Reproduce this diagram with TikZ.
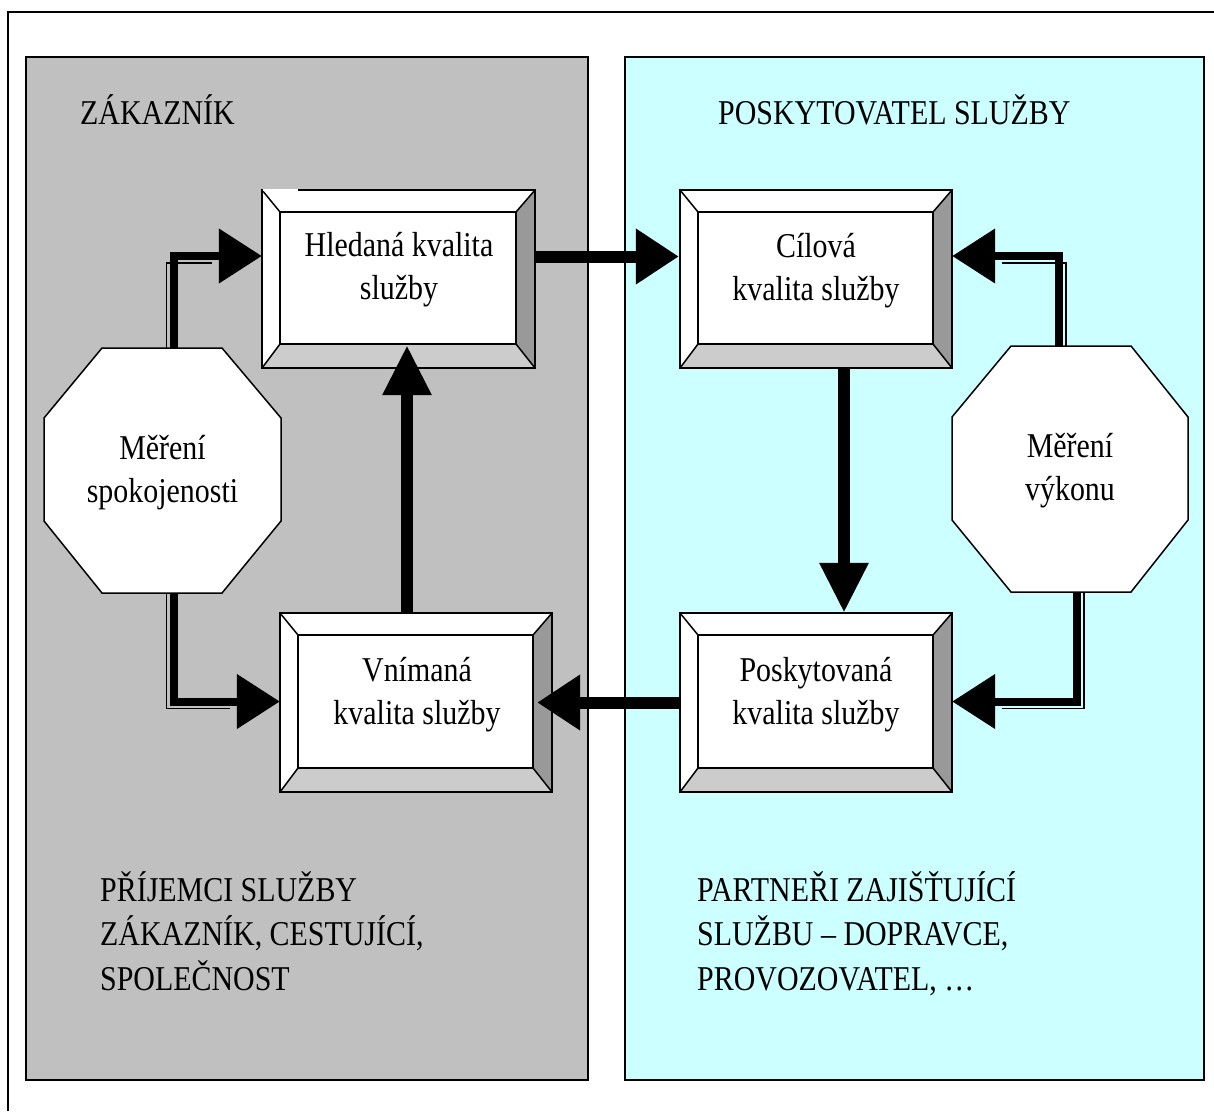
\documentclass[tikz,border=0pt]{standalone}
\usepackage{fontspec}
\setmainfont{Liberation Serif}[FakeStretch=0.86]
\usetikzlibrary{arrows.meta,calc}
\definecolor{panelgray}{HTML}{C0C0C0}
\definecolor{panelcyan}{HTML}{CCFFFF}
\definecolor{bevdark}{HTML}{999999}
\definecolor{bevlight}{HTML}{CCCCCC}
\newcommand\bevbox[5]{%
  \pgfmathsetmacro\bax{#2+18}\pgfmathsetmacro\bay{#3+22}%
  \pgfmathsetmacro\bbx{#4-19}\pgfmathsetmacro\bby{#5-24}%
  \fill[white] (#2,#3) -- (#4,#3) -- (\bbx,\bay) -- (\bax,\bay) -- cycle;
  \fill[white] (#2,#3) -- (\bax,\bay) -- (\bax,\bby) -- (#2,#5) -- cycle;
  \fill[bevdark] (#4,#3) -- (#4,#5) -- (\bbx,\bby) -- (\bbx,\bay) -- cycle;
  \fill[bevlight] (#2,#5) -- (#4,#5) -- (\bbx,\bby) -- (\bax,\bby) -- cycle;
  \draw[boxline] (#2,#3) -- (\bax,\bay) (#4,#3) -- (\bbx,\bay) (#4,#5) -- (\bbx,\bby) (#2,#5) -- (\bax,\bby);
  \draw[boxline, fill=white] (\bax,\bay) rectangle (\bbx,\bby);
  \draw[boxline] (#2,#3) rectangle (#4,#5);
  \node[inner sep=0, minimum width={(#4-#2)*1pt}, minimum height={(#5-#3)*1pt}] (#1) at ({(#2+#4)/2},{(#3+#5)/2}) {};
}
\begin{document}
\begin{tikzpicture}[x=1pt,y=-1pt,
  boxline/.style={line width=1.5pt, black},
  panelline/.style={line width=1.8pt, black},
  txt/.style={font=\fontsize{34.8}{43}\selectfont, inner sep=0, align=center, anchor=base},
  ltxt/.style={font=\fontsize{34.8}{44.5}\selectfont, inner sep=0, align=left, anchor=base west},
  mainarr/.style={line width=12pt, -{Triangle[length=43pt,width=53pt]}},
  mainarrv/.style={line width=12pt, -{Triangle[length=50pt,width=46pt]}},
  dblarr/.style={line width=8pt, -{Triangle[length=43pt,width=53pt]}},
  shadowline/.style={line width=1.5pt}]
\useasboundingbox (0,0) rectangle (1214,1111);
\fill[white] (0,0) rectangle (1214,1111);
% outer frame
\draw[line width=1.2pt] (8,1111) -- (8,12) -- (1214,12);
% panels
\draw[panelline, fill=panelgray] (26,57) rectangle (588,1080);
\draw[panelline, fill=panelcyan] (625,57) rectangle (1204,1080);
% panel titles
\node[ltxt] (zak) at (80,124) {ZÁKAZNÍK};
\node[ltxt] (posk) at (718,124) {POSKYTOVATEL SLUŽBY};
% boxes
\bevbox{hl}{262}{190}{535}{368}
\draw[white, line width=2pt] (263,190) -- (298,190);
\bevbox{cl}{680}{190}{952}{368}
\bevbox{vn}{280}{613}{552}{792}
\bevbox{pk}{680}{613}{952}{792}
% octagons
\draw[boxline, fill=white] (102,348) -- (222,348) -- (281,418) -- (281,521) -- (222,593) -- (102,593) -- (44,521) -- (44,418) -- cycle;
\node[inner sep=0, minimum width=237pt, minimum height=245pt] (octL) at (162.5,470.5) {};
\draw[boxline, fill=white] (1011,346) -- (1131,346) -- (1188,417) -- (1188,520) -- (1131,592) -- (1011,592) -- (952,520) -- (952,417) -- cycle;
\node[inner sep=0, minimum width=236pt, minimum height=246pt] (octR) at (1070,469) {};
% texts (anchor base = baseline of the last line)
\node[txt] (hl-t) at (399,299) {Hledaná kvalita\\služby};
\node[txt] (cl-t) at (816,300) {Cílová\\kvalita služby};
\node[txt] (vn-t) at (417,724) {Vnímaná\\kvalita služby};
\node[txt] (pk-t) at (816,724) {Poskytovaná\\kvalita služby};
\node[txt] (octL-t) at (162.5,502) {Měření\\spokojenosti};
\node[txt] (octR-t) at (1070,500) {Měření\\výkonu};
\node[ltxt] (prij) at (100,990) {PŘÍJEMCI SLUŽBY\\ZÁKAZNÍK, CESTUJÍCÍ,\\SPOLEČNOST};
\node[ltxt] (part) at (697,990) {PARTNEŘI ZAJIŠŤUJÍCÍ\\SLUŽBU – DOPRAVCE,\\PROVOZOVATEL, …};
% double connectors (shadow thin line + thick line)
\draw[shadowline] ($(octL.north)+(4,0)$) |- ($(hl.west)+(-50,-16)$);
\draw[dblarr] ($(octL.north)+(11,0)$) |- ($(hl.west)+(0,-23)$);
\draw[shadowline] ($(octL.south)+(4,0)$) |- ($(vn.west)+(-50,6)$);
\draw[dblarr] ($(octL.south)+(11,0)$) |- ($(vn.west)+(0,-1)$);
\draw[shadowline] ($(octR.north)+(-4,0)$) |- ($(cl.east)+(50,-16)$);
\draw[dblarr] ($(octR.north)+(-11,0)$) |- ($(cl.east)+(0,-23)$);
\draw[shadowline] ($(octR.south)+(14,0)$) |- ($(pk.east)+(50,6)$);
\draw[dblarr] ($(octR.south)+(7,0)$) |- ($(pk.east)+(0,-1)$);
% main arrows
\draw[mainarr] ($(hl.east)+(0,-22.5)$) -- ($(cl.west)+(-1,-22.5)$);
\draw[mainarrv] ($(cl.south)+(28,0)$) -- ($(pk.north)+(28,0)$);
\draw[mainarr] (pk.west) -- ($(vn.east)+(-15,0)$);
\draw[mainarrv] ($(vn.north)+(-9,0)$) -- ($(hl.south)+(8.5,-23)$);
\end{tikzpicture}
\end{document}
